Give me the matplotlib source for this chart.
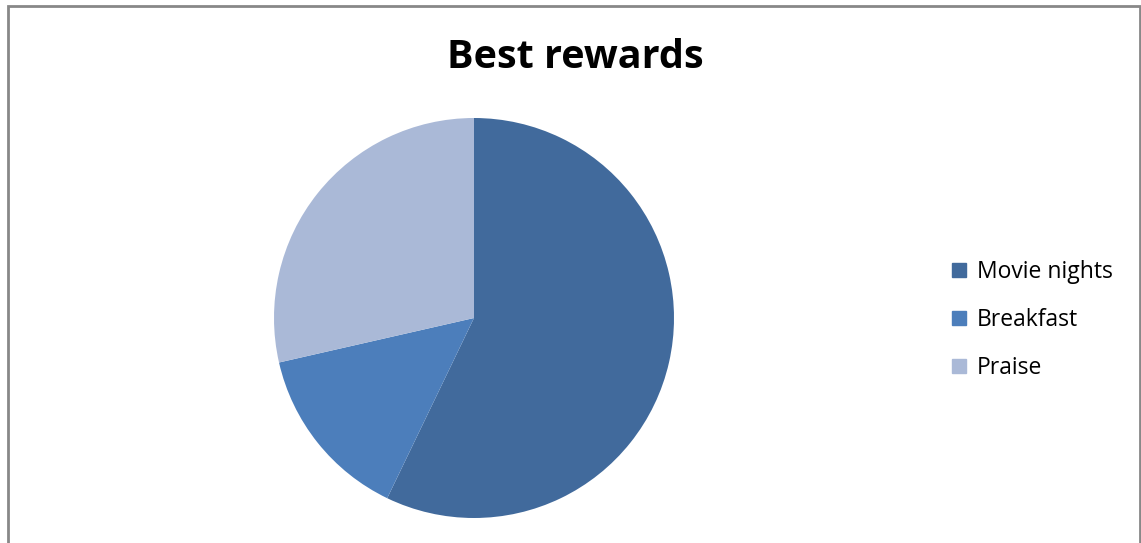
import matplotlib.pyplot as plt
from matplotlib.patches import Rectangle
from matplotlib.lines import Line2D

labels = ["Movie nights", "Breakfast", "Praise"]
votes = [4, 1, 2]
colors = ["#416A9C", "#4C7EBB", "#AAB9D7"]

W, H = 1141, 543
fig = plt.figure(figsize=(W / 100, H / 100), dpi=100)

# chart area border (bottom edge runs off the image)
fig.patches.append(Rectangle((7.5 / W, -0.05), (1139.5 - 7.5) / W, (H - 6) / H + 0.05,
                             transform=fig.transFigure, fill=False,
                             edgecolor="#888888", linewidth=2.0))

ax = fig.add_axes([274 / W, 25 / H, 400 / W, 400 / H])
ax.pie(votes, colors=colors, startangle=90, counterclock=False,
       wedgeprops={"linewidth": 0})
ax.set_xlim(-1, 1)
ax.set_ylim(-1, 1)
ax.set_aspect("equal")

fig.text(575 / W, 1 - 58 / H, "Best rewards", ha="center", va="center",
         fontsize=28.5, fontweight="bold", family="Open Sans")

handles = [Line2D([], [], marker="s", linestyle="none", markersize=9.5,
                  markerfacecolor=c, markeredgecolor=c) for c in colors]
fig.legend(handles, labels, loc="center left",
           bbox_to_anchor=(952 / W, 1 - 320 / H), frameon=False,
           prop={"family": "Open Sans", "size": 16.5},
           labelspacing=1.03, handlelength=0.65, handletextpad=0.45,
           borderpad=0, borderaxespad=0)

fig.savefig("out.png", dpi=100)
